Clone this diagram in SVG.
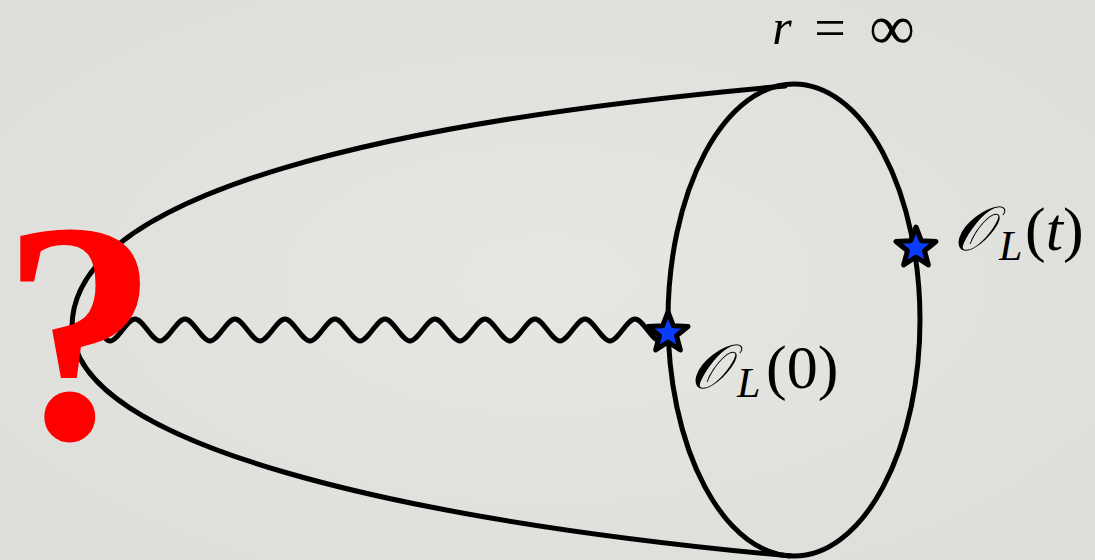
<svg xmlns="http://www.w3.org/2000/svg" width="1095" height="560" viewBox="0 0 1095 560">
<defs>
<radialGradient id="bg" cx="50%" cy="50%" r="75%">
<stop offset="0" stop-color="#e6e6e2"/>
<stop offset="1" stop-color="#dcddd8"/>
</radialGradient>
<polygon id="star" points="0,-21 5.29,-7.28 19.97,-6.49 8.56,2.78 12.34,16.99 0,9 -12.34,16.99 -8.56,2.78 -19.97,-6.49 -5.29,-7.28"/>
</defs>
<style>
.ln{fill:none;stroke:#000;stroke-width:5;stroke-linecap:round;stroke-linejoin:round}
.st{fill:#0a3cff;stroke:#000;stroke-width:5;stroke-linejoin:round}
.tx{font-family:"Liberation Serif","DejaVu Serif",serif;fill:#000}
.it{font-style:italic}
.cal{font-family:"DejaVu Serif","Liberation Serif","Noto Sans",serif}
</style>
<rect width="1095" height="560" fill="url(#bg)"/>
<g id="surface">
<ellipse class="ln" cx="794" cy="320" rx="126" ry="236"/>
<path class="ln" d="M785,86 C400,120 72,190 72,327 C72,445 400,520 790,556"/>
</g>
<g id="connectors">
<path class="ln" stroke-width="4" d="M90,320 C100,320 102,341 110,341 C118,341 127,319 135,319 C143,319 152,341 160,341 C168,341 177,319 185,319 C193,319 202,341 210,341 C218,341 227,319 235,319 C243,319 252,341 260,341 C268,341 277,319 285,319 C293,319 302,341 310,341 C318,341 327,319 335,319 C343,319 352,341 360,341 C368,341 377,319 385,319 C393,319 402,341 410,341 C418,341 427,319 435,319 C443,319 452,341 460,341 C468,341 477,319 485,319 C493,319 502,341 510,341 C518,341 527,319 535,319 C543,319 552,341 560,341 C568,341 577,319 585,319 C593,319 602,341 610,341 C618,341 627,319 635,319 C643,319 652,341 660,341 L668,333"/>
</g>
<g id="op0">
<use href="#star" class="st" x="668" y="333"/>
<text class="tx cal it" x="690" y="388" font-size="62">𝒪</text>
<text class="tx it" x="737" y="397" font-size="42">L</text>
<text class="tx" x="766" y="388" font-size="62">(0)</text>
</g>
<g id="opt">
<use href="#star" class="st" x="916" y="248"/>
<text class="tx cal it" x="953" y="250" font-size="62">𝒪</text>
<text class="tx it" x="999" y="260" font-size="42">L</text>
<text class="tx" x="1025" y="250" font-size="62">(<tspan class="it">t</tspan>)</text>
</g>
<g id="rinf">
<text class="tx it" x="782" y="44" font-size="50" text-anchor="middle">r</text>
<text class="tx" x="830" y="47" font-size="56" text-anchor="middle">=</text>
<text class="tx" x="892" y="49" font-size="64" text-anchor="middle">∞</text>
</g>
<g id="question">
<text x="80" y="438" font-size="315" font-weight="bold" text-anchor="middle" fill="#ff0000" font-family="'Liberation Serif',serif">?</text>
</g>
</svg>
